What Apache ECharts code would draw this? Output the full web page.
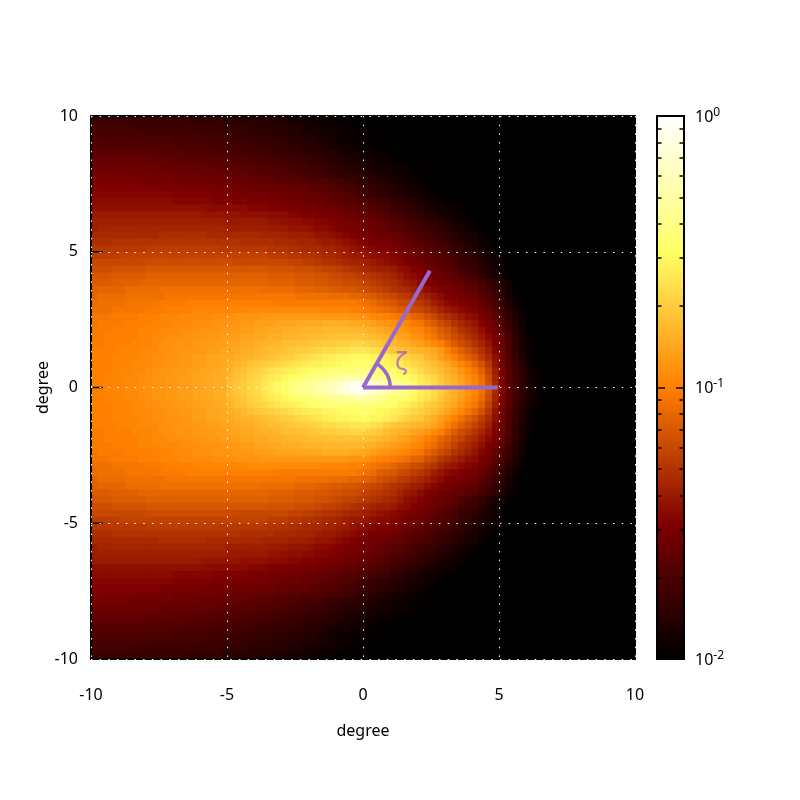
<!DOCTYPE html>
<html><head><meta charset="utf-8">
<style>html,body{margin:0;padding:0;background:#fff}#c{width:800px;height:800px}</style>
<script src="https://cdn.jsdelivr.net/npm/echarts@6/dist/echarts.min.js"></script>
</head><body><div id="c"></div>
<script>
// Log-scale level of each cell, 0 = 10^-2, 100 = 10^0.
// One list per row, y = +0.125 upward in steps of 0.25; cells from x = -9.875 in steps of 0.25.
// The picture is mirror-symmetric about y = 0. Cells past the end of a list are black.
const row00=[50,50,51,51,51,52,52,53,53,54,54,55,55,56,56,57,57,58,59,59,62,64,65,67,68,70,72,74,76,78,80,81,83,85,87,89,91,94,98,99,97,93,90,87,84,82,79,76,72,70,68,65,62,60,57,54,51,47,41,33,25,18,13,9,5,3,1];
const row01=[50,50,51,51,51,52,52,53,53,54,54,55,55,56,56,57,57,58,59,59,61,63,64,66,67,69,71,72,73,75,76,78,79,80,81,82,83,84,85,86,85,84,82,80,78,77,75,73,71,69,67,64,61,59,56,53,50,46,40,32,24,18,13,9,5,3,1];
const row02=[50,50,50,51,51,51,52,52,53,53,54,54,55,55,56,56,57,57,58,59,60,62,63,65,66,67,69,70,71,72,73,74,75,76,77,78,78,79,79,79,79,78,77,76,75,73,72,70,68,66,64,62,59,57,54,51,48,44,38,31,24,17,12,8,4,2,1];
const row03=[50,50,50,51,51,51,52,52,52,53,53,54,54,55,55,56,56,57,57,58,59,60,61,63,64,65,66,67,68,69,70,71,72,72,73,73,74,75,75,76,76,75,74,73,72,71,69,67,66,64,62,60,57,54,51,48,45,41,36,29,22,16,11,7,3,1];
const row04=[50,50,50,51,51,51,51,52,52,53,53,54,54,55,55,56,56,57,57,58,58,59,60,60,61,62,63,64,65,66,67,68,69,70,71,72,73,73,74,74,74,73,73,72,70,68,66,65,64,61,59,56,53,50,47,44,41,37,33,28,22,16,11,6,3,1];
const row05=[50,50,50,50,51,51,51,52,52,52,53,53,54,54,55,55,55,56,56,57,57,58,59,59,60,61,62,62,63,64,65,65,66,67,68,68,69,69,70,70,70,69,68,66,64,63,62,61,60,59,57,55,50,47,44,41,38,35,31,26,21,15,10,5,2,1];
const row06=[49,49,50,50,50,50,51,51,51,52,53,53,54,54,54,55,55,55,56,56,57,57,58,58,59,60,60,61,62,62,63,63,64,64,65,65,66,66,67,67,66,65,64,62,61,60,59,57,56,54,52,50,46,43,40,38,35,32,29,25,20,15,10,5,2];
const row07=[49,49,50,50,50,50,50,51,51,52,52,53,53,53,54,54,54,55,55,56,56,56,57,57,58,58,59,59,60,60,61,61,62,62,62,63,63,63,63,63,63,62,61,60,59,57,56,54,53,50,48,45,43,40,38,35,33,30,27,24,19,14,9,5,1];
const row08=[49,49,49,50,50,50,50,51,51,51,52,52,52,53,53,53,54,54,54,55,55,55,56,56,57,57,58,58,59,59,59,60,60,60,61,61,61,61,61,61,60,59,58,57,56,55,54,52,51,48,46,43,41,38,35,33,31,28,25,22,17,12,8,4,1];
const row09=[48,49,49,49,49,50,50,50,50,51,51,51,52,52,52,53,53,53,54,54,54,55,55,55,56,56,56,57,57,57,58,58,58,58,59,59,59,59,58,58,57,56,55,54,53,52,51,49,48,45,43,40,38,35,33,31,29,26,24,20,15,11,7,3,1];
const row10=[48,48,48,49,49,49,49,50,50,50,51,51,51,52,52,52,52,52,53,53,53,54,54,54,54,55,55,55,55,55,55,55,55,55,55,55,55,55,54,54,53,52,51,50,49,48,47,45,44,41,39,36,34,32,30,28,27,24,22,18,14,10,6,2];
const row11=[47,47,47,48,48,48,48,48,49,49,49,50,50,50,50,51,51,51,51,51,51,51,51,52,52,52,52,52,52,52,52,52,52,52,51,51,51,51,50,50,49,48,47,46,45,43,42,40,39,37,35,32,30,29,27,26,25,22,20,16,12,8,5,1];
const row12=[46,47,47,47,47,48,48,48,48,48,49,49,49,49,50,50,50,50,50,50,50,50,50,50,50,50,50,49,49,49,49,49,49,49,49,49,49,49,49,48,47,46,44,43,42,40,39,37,36,34,31,29,27,26,25,24,23,20,17,14,10,6,3,1];
const row13=[45,46,46,46,46,47,47,47,47,47,47,48,48,48,48,48,48,48,48,48,48,48,48,48,48,48,48,48,48,48,47,47,47,47,47,46,46,46,45,45,44,43,41,40,39,37,36,34,33,31,29,27,25,24,23,22,21,18,15,12,8,5,2];
const row14=[44,45,45,45,45,46,46,46,46,46,47,47,47,47,47,47,47,47,47,47,47,47,47,47,47,46,46,46,46,46,45,45,45,44,44,43,43,42,42,41,40,39,38,37,35,34,33,31,30,28,26,25,23,22,21,19,18,16,13,10,7,4,1];
const row15=[43,43,43,44,44,44,44,45,45,45,45,45,45,45,45,45,45,45,45,45,45,45,45,45,45,45,44,44,44,44,43,43,43,42,42,41,41,40,40,39,38,37,36,35,34,32,30,29,27,25,24,22,21,20,19,17,16,14,11,9,5,3,1];
const row16=[42,42,42,43,43,43,43,43,44,44,44,44,44,44,44,44,44,44,44,44,44,44,44,44,44,44,43,43,43,43,42,42,42,41,41,40,39,38,38,37,36,35,34,33,32,30,28,27,25,24,22,21,20,18,16,14,12,10,7,5,3,1];
const row17=[40,40,40,41,41,41,41,41,42,42,42,42,42,42,42,42,42,42,42,42,42,42,42,42,42,42,41,41,41,41,40,40,40,39,38,38,37,36,35,34,33,32,31,31,30,28,27,25,24,22,21,19,18,16,14,12,11,8,6,4,2];
const row18=[39,39,39,39,39,39,39,39,40,40,40,40,40,40,40,40,40,40,40,40,40,39,39,39,39,39,39,39,39,38,38,37,37,36,35,35,34,33,32,32,31,30,29,28,27,26,24,23,22,20,19,17,16,14,12,10,9,7,5,3,2];
const row19=[37,37,37,37,38,38,38,38,38,38,38,38,38,38,38,38,38,38,38,38,38,38,38,38,38,38,37,37,37,36,36,35,35,34,33,33,32,31,30,30,29,28,27,27,26,25,23,22,21,19,18,16,15,13,11,10,8,6,4,3,1];
const row20=[36,36,36,36,36,36,36,36,37,37,37,37,37,37,37,37,37,37,37,36,36,36,36,36,36,36,35,35,35,34,34,33,33,33,32,32,31,30,29,28,27,26,25,25,24,23,21,20,19,17,16,14,13,11,9,8,6,4,3,1];
const row21=[34,34,34,35,35,35,35,35,35,35,35,35,35,35,35,35,35,35,35,35,35,35,34,34,34,34,34,33,33,33,32,32,32,31,30,30,29,28,27,26,25,24,23,23,22,21,19,18,17,15,14,12,11,9,8,6,5,3,2,1];
const row22=[33,33,33,33,33,33,33,33,33,33,34,34,34,34,34,34,34,33,33,33,33,33,33,33,33,32,32,32,32,31,31,31,30,29,29,28,27,26,25,24,23,22,22,21,20,19,18,16,15,14,12,11,9,8,6,5,4,2,1];
const row23=[31,32,32,32,32,32,32,32,32,32,32,32,32,32,32,32,32,32,32,32,31,31,31,31,31,31,30,30,30,29,29,29,28,27,27,26,25,24,24,23,22,21,20,19,18,17,16,14,13,12,11,9,7,6,5,3,2,1];
const row24=[31,31,31,31,31,31,31,31,31,31,31,31,31,31,31,31,31,31,31,31,30,30,30,30,30,30,29,29,28,28,28,27,27,26,26,25,24,23,23,22,21,20,19,18,16,15,14,13,11,10,9,7,6,4,3,2,1];
const row25=[30,30,30,30,30,30,30,30,30,30,30,30,30,30,30,30,29,29,29,29,29,29,28,28,28,28,27,27,27,26,26,25,25,24,24,23,23,22,21,20,19,18,17,16,14,13,12,11,9,8,7,5,4,3,2,1];
const row26=[28,28,28,28,28,28,28,28,28,28,28,28,28,28,28,28,28,27,27,27,27,27,27,26,26,26,25,25,25,24,24,23,23,22,22,21,20,19,19,18,17,16,15,14,12,11,10,9,7,6,5,4,3,2,1];
const row27=[27,27,27,27,27,27,27,27,27,27,27,27,26,26,26,26,26,26,25,25,25,25,25,24,24,24,23,23,22,22,22,21,21,20,20,19,18,17,17,16,15,14,13,12,10,9,8,7,5,4,3,2,1];
const row28=[26,26,26,26,26,26,26,26,26,26,26,26,25,25,25,25,25,25,24,24,24,24,23,23,23,23,22,22,21,21,21,20,20,19,18,18,17,16,15,14,12,11,10,9,8,7,6,5,4,3,2,1];
const row29=[25,25,25,25,25,25,25,25,25,25,24,24,24,24,24,24,23,23,23,23,22,22,22,22,21,21,21,20,20,19,19,19,18,17,17,16,15,14,13,12,11,10,9,8,7,6,5,4,3,2,1];
const row30=[24,24,24,24,24,24,24,23,23,23,23,23,22,22,22,22,22,22,21,21,21,20,20,20,19,19,19,18,18,17,17,16,16,15,15,14,13,12,11,10,9,8,7,6,5,4,3,3,2,1];
const row31=[23,23,23,23,23,22,22,22,22,22,22,21,21,21,21,21,20,20,20,20,19,19,19,18,18,17,17,16,16,15,15,14,13,13,12,11,10,9,9,8,7,6,5,5,4,3,3,2,1,1];
const row32=[21,21,21,21,21,21,21,21,21,21,20,20,20,20,20,19,19,19,19,18,18,18,17,17,16,16,16,15,15,14,14,13,12,12,11,10,9,8,7,7,6,5,4,4,3,3,2,1,1];
const row33=[20,20,20,20,20,20,20,20,19,19,19,19,18,18,18,18,18,17,17,17,16,16,16,15,15,14,14,13,13,12,12,11,10,10,9,8,7,6,6,5,4,4,3,3,2,1,1];
const row34=[18,18,18,18,18,18,18,18,18,18,17,17,17,17,16,16,16,16,15,15,15,14,14,14,13,13,12,12,11,11,10,9,9,8,7,7,6,5,5,4,3,3,2,2,1,1];
const row35=[16,16,16,16,16,16,16,16,16,16,16,16,15,15,15,15,15,14,14,14,13,13,13,12,12,11,11,10,10,9,9,8,8,7,6,5,4,4,3,3,2,2,1,1];
const row36=[15,15,15,15,15,15,15,15,15,15,15,15,14,14,14,14,14,13,13,13,12,12,11,11,10,10,10,9,9,8,8,7,7,6,5,4,3,3,2,2,1,1,1];
const row37=[14,14,14,14,14,14,14,14,13,13,13,13,13,13,13,13,12,12,12,12,11,11,10,10,9,9,9,8,8,7,7,6,6,5,4,4,3,2,2,1,1,1];
const row38=[13,13,13,13,13,13,12,12,12,12,12,12,12,12,12,11,11,11,11,10,10,10,9,9,8,8,8,7,7,6,6,5,4,4,3,3,2,2,1,1,1];
const row39=[11,11,11,11,11,11,11,11,11,11,11,11,11,11,10,10,10,10,10,9,9,8,8,8,7,7,7,6,6,5,4,4,3,3,2,2,1,1,1];
const halfRows=[row00,row01,row02,row03,row04,row05,row06,row07,row08,row09,row10,row11,row12,row13,row14,row15,row16,row17,row18,row19,row20,row21,row22,row23,row24,row25,row26,row27,row28,row29,row30,row31,row32,row33,row34,row35,row36,row37,row38,row39];

const columnCount=80;
const axisTickValues=[-5,0,5];
const colorbarMajor=[0.01,0.1,1];
const colorbarMinor=[0.02,0.03,0.04,0.05,0.06,0.07,0.08,0.09,0.2,0.3,0.4,0.5,0.6,0.7,0.8,0.9];
const wedgeBase=[[0,0],[4.95,0]];
const wedgeArm=[[0,0],[2.46,4.3]];
const wedgeArc=[[1,0],[0.97,0.26],[0.87,0.5],[0.71,0.71],[0.52,0.87]];
const zetaAt=[[1.42,0.88]];
const purple='#9a68cc';

const rowsBottomUp=[...halfRows.slice().reverse(),...halfRows];
const cells=[];
rowsBottomUp.forEach((row,j)=>{for(let i=0;i<columnCount;i++)cells.push([i,j,i<row.length?row[i]:0]);});
const cats=Array.from({length:columnCount},(_,i)=>String(i));

// inward frame ticks, in axis units, as one broken line
const tickLen=0.44;
const frameTicks=[];
axisTickValues.forEach(v=>{
  frameTicks.push([v,-10],[v,-10+tickLen],'-',[v,10],[v,10-tickLen],'-',[-10,v],[-10+tickLen,v],'-',[10,v],[10-tickLen,v],'-');
});

const font={fontFamily:'Noto Sans',fontSize:16,color:'#000'};
const blackTick=(len,custom)=>({show:true,inside:true,length:len,lineStyle:{color:'#000',width:1.5},...(custom?{customValues:custom}:{})});
const frameAxis=(pos,extra)=>({type:'value',gridIndex:0,min:-10,max:10,interval:5,position:pos,z:6,axisLine:{show:false,onZero:false},axisLabel:{show:false},axisTick:{show:false},splitLine:{show:false},...extra});
const cbAxis=(pos,tick,label)=>({type:'log',gridIndex:1,min:0.01,max:1,position:pos,z:7,axisLine:{show:false,onZero:false},splitLine:{show:false},axisTick:tick,
  axisLabel:label?{show:true,margin:11,padding:[2,0,0,0],formatter:v=>'{b|10}{s|'+Math.round(Math.log10(v))+'}',rich:{b:{...font},s:{fontFamily:'Noto Sans',fontSize:12,color:'#000',padding:[0,0,9,0]}}}:{show:false}});

const line=(d,w,smooth)=>({type:'line',xAxisIndex:1,yAxisIndex:1,data:d,smooth:!!smooth,showSymbol:false,silent:true,z:9,lineStyle:{color:purple,width:w,cap:'butt'},clip:false,animation:false});

const heat=()=>({type:'heatmap',xAxisIndex:0,yAxisIndex:0,data:cells,progressive:0,silent:true,z:2,emphasis:{disabled:true}});

const chart=echarts.init(document.getElementById('c'),null,{renderer:'canvas'});
chart.setOption({
  animation:false,backgroundColor:'#fff',
  grid:[
    {left:91,top:116,width:544,height:543,show:true,z:5,backgroundColor:'transparent',borderColor:'#000',borderWidth:2},
    {left:657,top:116,width:27,height:543,show:true,z:5,backgroundColor:'transparent',borderColor:'#000',borderWidth:2},
    {left:91,top:116,width:544,height:543,show:true,z:0,backgroundColor:'#000',borderWidth:0}
  ],
  xAxis:[
    {type:'category',gridIndex:0,data:cats,show:false,boundaryGap:true},
    frameAxis('bottom',{name:'degree',nameLocation:'middle',nameGap:64,nameTextStyle:{...font},axisLabel:{show:true,margin:28,...font},
      splitLine:{show:true,lineStyle:{color:'#fff',type:[1.5,7.2],width:1}}}),
    {type:'value',gridIndex:1,min:0,max:1,show:false}
  ],
  yAxis:[
    {type:'category',gridIndex:0,data:cats,show:false,boundaryGap:true},
    frameAxis('left',{name:'degree',nameLocation:'middle',nameGap:40,nameMoveOverlap:false,nameRotate:90,nameTextStyle:{...font},axisLabel:{show:true,margin:13,padding:[2,0,0,0],...font},
      splitLine:{show:true,lineStyle:{color:'#fff',type:[1.5,7.2],width:1}}}),
    cbAxis('right',blackTick(8,colorbarMajor),true),
    cbAxis('left',blackTick(8,colorbarMajor),false),
    cbAxis('right',blackTick(4.5,colorbarMinor),false),
    cbAxis('left',blackTick(4.5,colorbarMinor),false)
  ],
  visualMap:{type:'continuous',min:0,max:100,seriesIndex:[0,1],calculable:false,realtime:false,orient:'vertical',
    left:657,top:116,itemWidth:27,itemHeight:543,padding:0,text:['',''],showLabel:false,
    inRange:{color:['#000000','#7f0000','#ff8000','#ffff66','#ffffff']}},
  series:[
    heat(),heat(),
    {type:'line',xAxisIndex:1,yAxisIndex:1,data:frameTicks,connectNulls:false,showSymbol:false,silent:true,z:4,lineStyle:{color:'#000',width:1.5,cap:'butt'},animation:false},
    line(wedgeBase,4),
    line(wedgeArm,4),
    line(wedgeArc,3.5,true),
    {type:'scatter',xAxisIndex:1,yAxisIndex:1,data:zetaAt,symbolSize:0,silent:true,z:9,
      label:{show:true,position:'inside',formatter:'\u03b6',fontFamily:'DejaVu Sans',fontSize:24,color:purple}}
  ]
});
</script></body></html>
